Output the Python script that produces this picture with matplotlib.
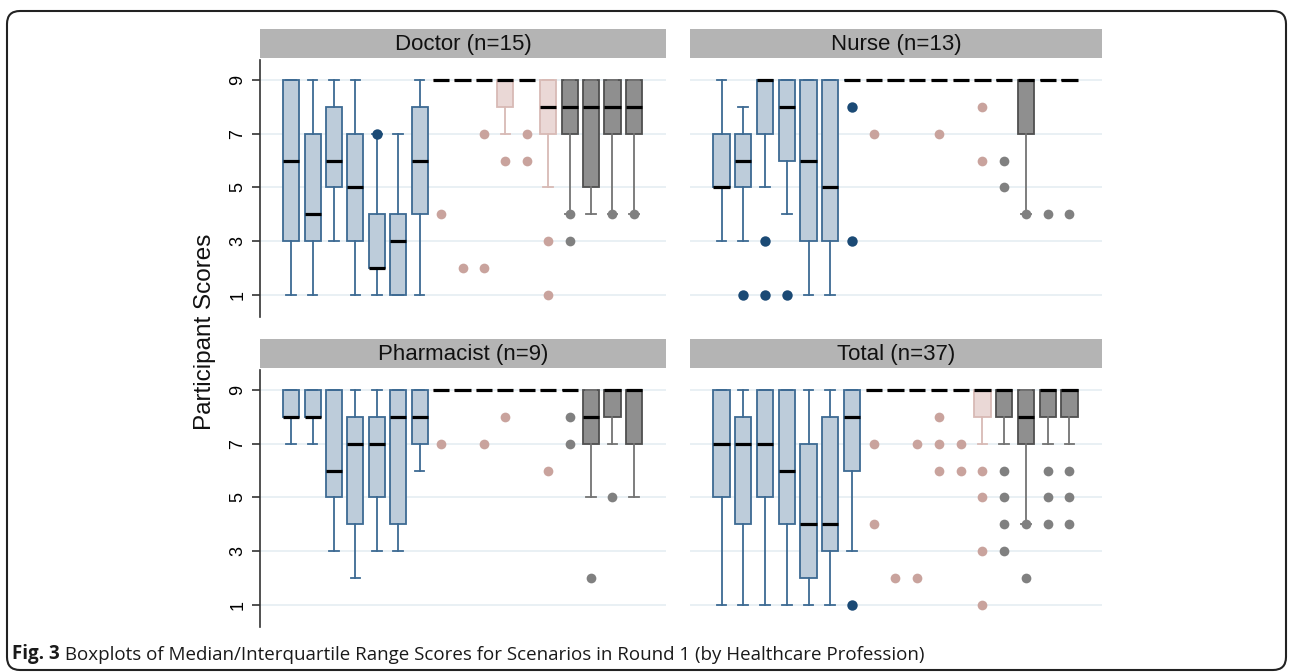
import matplotlib
matplotlib.use("Agg")
import matplotlib.pyplot as plt
import matplotlib.patches as mpatches

plt.rcParams['font.family'] = ['Liberation Sans', 'DejaVu Sans']

# scenarios 1-17: first 7 blue, next 6 pink, last 4 gray
group_names = ['blue', 'pink', 'gray']
group_sizes = [7, 6, 4]
yticks = [1, 3, 5, 7, 9]

# Doctor (n=15)
doctor_q1 = [3, 3, 5, 3, 2, 1, 4, 9, 9, 9, 8, 9, 7, 7, 5, 7, 7]
doctor_med = [6, 4, 6, 5, 2, 3, 6, 9, 9, 9, 9, 9, 8, 8, 8, 8, 8]
doctor_q3 = [9, 7, 8, 7, 4, 4, 8, 9, 9, 9, 9, 9, 9, 9, 9, 9, 9]
doctor_lo = [1, 1, 3, 1, 1, 1, 1, 9, 9, 9, 7, 9, 5, 4, 4, 4, 4]
doctor_hi = [9, 9, 9, 9, 7, 7, 9, 9, 9, 9, 9, 9, 9, 9, 9, 9, 9]
doctor_out = [[], [], [], [], [7], [], [], [4], [2], [7, 2], [6], [7, 6], [3, 1],
              [4, 3], [], [4], [4]]

# Nurse (n=13)
nurse_q1 = [5, 5, 7, 6, 3, 3, 9, 9, 9, 9, 9, 9, 9, 9, 7, 9, 9]
nurse_med = [5, 6, 9, 8, 6, 5, 9, 9, 9, 9, 9, 9, 9, 9, 9, 9, 9]
nurse_q3 = [7, 7, 9, 9, 9, 9, 9, 9, 9, 9, 9, 9, 9, 9, 9, 9, 9]
nurse_lo = [3, 3, 5, 4, 1, 1, 9, 9, 9, 9, 9, 9, 9, 9, 4, 9, 9]
nurse_hi = [9, 8, 9, 9, 9, 9, 9, 9, 9, 9, 9, 9, 9, 9, 9, 9, 9]
nurse_out = [[], [1], [3, 1], [1], [], [], [8, 3], [7], [], [], [7], [], [8, 6],
             [6, 5], [4], [4], [4]]

# Pharmacist (n=9)
pharm_q1 = [8, 8, 5, 4, 5, 4, 7, 9, 9, 9, 9, 9, 9, 9, 7, 8, 7]
pharm_med = [8, 8, 6, 7, 7, 8, 8, 9, 9, 9, 9, 9, 9, 9, 8, 9, 9]
pharm_q3 = [9, 9, 9, 8, 8, 9, 9, 9, 9, 9, 9, 9, 9, 9, 9, 9, 9]
pharm_lo = [7, 7, 3, 2, 3, 3, 6, 9, 9, 9, 9, 9, 9, 9, 5, 7, 5]
pharm_hi = [9, 9, 9, 9, 9, 9, 9, 9, 9, 9, 9, 9, 9, 9, 9, 9, 9]
pharm_out = [[], [], [], [], [], [], [], [7], [], [7], [8], [], [6],
             [8, 7], [2], [5], []]

# Total (n=37)
total_q1 = [5, 4, 5, 4, 2, 3, 6, 9, 9, 9, 9, 9, 8, 8, 7, 8, 8]
total_med = [7, 7, 7, 6, 4, 4, 8, 9, 9, 9, 9, 9, 9, 9, 8, 9, 9]
total_q3 = [9, 8, 9, 9, 7, 8, 9, 9, 9, 9, 9, 9, 9, 9, 9, 9, 9]
total_lo = [1, 1, 1, 1, 1, 1, 3, 9, 9, 9, 9, 9, 7, 7, 4, 7, 7]
total_hi = [9, 9, 9, 9, 9, 9, 9, 9, 9, 9, 9, 9, 9, 9, 9, 9, 9]
total_out = [[], [], [], [], [], [], [1], [7, 4], [2], [7, 2], [8, 7, 6], [7, 6], [6, 5, 3, 1],
             [6, 5, 4, 3], [4, 2], [6, 5, 4], [6, 5, 4]]

styles = {
    'blue': dict(fill='#BDCCDA', edge='#3D6A93', whisker='#3D6A93', dot='#1B4A75', ms=7.5),
    'pink': dict(fill='#EAD8D6', edge='#D8BAB5', whisker='#D8BAB5', dot='#C9A39D', ms=7),
    'gray': dict(fill='#8F8F8F', edge='#4F4F4F', whisker='#737373', dot='#808080', ms=7),
}


def draw_panel(ax, q1, med, q3, lo, hi, out, show_y):
    start = 0
    for name, size in zip(group_names, group_sizes):
        st = styles[name]
        idx = range(start, start + size)
        stats = [dict(q1=q1[i], med=med[i], q3=q3[i], whislo=lo[i], whishi=hi[i],
                      fliers=out[i]) for i in idx]
        ax.bxp(stats, positions=[i + 1 for i in idx], widths=0.75, capwidths=0.45,
               patch_artist=True, manage_ticks=False,
               boxprops=dict(facecolor=st['fill'], edgecolor=st['edge'], linewidth=1.3),
               whiskerprops=dict(color=st['whisker'], linewidth=1.3),
               capprops=dict(color=st['whisker'], linewidth=1.3),
               medianprops=dict(color='black', linewidth=2.3),
               flierprops=dict(marker='o', markerfacecolor=st['dot'],
                               markeredgecolor='none', markersize=st['ms']))
        start += size

    ax.set_xlim(-0.45, 18.5)
    ax.set_ylim(0.18, 9.74)
    ax.set_yticks(yticks)
    ax.set_xticks([])
    ax.grid(axis='y', color='#E5EEF2', linewidth=1.2)
    ax.set_axisbelow(True)
    for s in ['top', 'right', 'bottom']:
        ax.spines[s].set_visible(False)
    if show_y:
        ax.spines['left'].set_color('#333333')
        ax.spines['left'].set_linewidth(1.2)
        ax.tick_params(axis='y', length=6, width=1.2, color='#333333',
                       labelsize=13, pad=4)
        for lab in ax.get_yticklabels():
            lab.set_rotation(90)
            lab.set_va('center')
    else:
        ax.spines['left'].set_visible(False)
        ax.tick_params(axis='y', left=False, labelleft=False)


fig = plt.figure(figsize=(12.9, 6.72), dpi=100)

panels = [
    ('Doctor (n=15)', [0.2016, 0.5283, 0.3147, 0.3824], 0.9137,
     (doctor_q1, doctor_med, doctor_q3, doctor_lo, doctor_hi, doctor_out), True),
    ('Nurse (n=13)', [0.5349, 0.5283, 0.3194, 0.3824], 0.9137,
     (nurse_q1, nurse_med, nurse_q3, nurse_lo, nurse_hi, nurse_out), False),
    ('Pharmacist (n=9)', [0.2016, 0.0670, 0.3147, 0.3824], 0.4524,
     (pharm_q1, pharm_med, pharm_q3, pharm_lo, pharm_hi, pharm_out), True),
    ('Total (n=37)', [0.5349, 0.0670, 0.3194, 0.3824], 0.4524,
     (total_q1, total_med, total_q3, total_lo, total_hi, total_out), False),
]

for title, rect, strip_y, data, show_y in panels:
    ax = fig.add_axes(rect)
    draw_panel(ax, *data, show_y)
    sax = fig.add_axes([rect[0], strip_y, rect[2], 0.0432])
    sax.set_facecolor('#B4B4B4')
    sax.set_xticks([])
    sax.set_yticks([])
    for s in sax.spines.values():
        s.set_visible(False)
    sax.text(0.5, 0.47, title, ha='center', va='center', fontsize=16, color='#111111')

fig.text(0.159, 0.506, 'Participant Scores', rotation=90, ha='center', va='center',
         fontsize=17.5, color='#111111')

# caption
cap = fig.text(12 / 1290, 13 / 672, 'Fig. 3', fontsize=13.5, fontweight='bold',
               family=['Open Sans', 'DejaVu Sans'], color='#1A1A1A', va='baseline')
fig.axes[0].annotate(' Boxplots of Median/Interquartile Range Scores for Scenarios in Round 1 '
                     '(by Healthcare Profession)', xy=(1, 0), xycoords=cap,
                     va='bottom', ha='left', fontsize=13.5,
                     family=['Open Sans', 'DejaVu Sans'], color='#1A1A1A',
                     annotation_clip=False)

# rounded frame around the figure
frame = mpatches.FancyBboxPatch((0.07, 0.02), 12.79, 6.59,
                                boxstyle='round,pad=0,rounding_size=0.13',
                                transform=fig.dpi_scale_trans, fill=False,
                                edgecolor='#222222', linewidth=1.5)
fig.add_artist(frame)

fig.savefig('out.png', dpi=100)
